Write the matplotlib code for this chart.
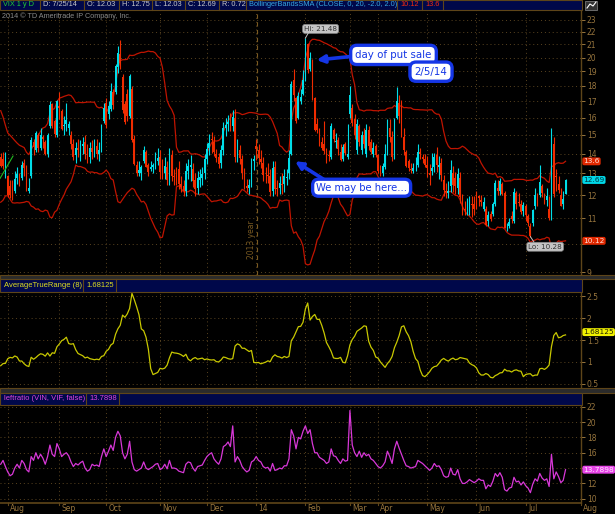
import numpy as np
import pandas as pd
import matplotlib.pyplot as plt
import matplotlib.transforms as mtransforms
from matplotlib.patches import Rectangle, FancyArrowPatch

W, H = 615, 514

# daily VIX bars; the first 19 (Jul 1-26 2013) sit left of the visible window
# and only feed the 20-day bands and the 8-day ATR
n_warm = 19
opens = [16.9, 16.3, 16.9, 15.5, 14.7, 14.6, 14.4, 13.8, 14.0, 13.9, 13.8, 14.3, 13.7, 13.6, 12.6, 12.3, 12.8, 13.6, 13.3,
         13.80, 13.70, 13.20,
         12.90, 12.40, 12.40, 12.20, 12.80, 12.90, 12.80, 13.50, 13.20, 12.20, 12.90, 14.60, 14.20, 15.00, 14.30, 14.90, 14.60, 14.00, 15.50, 16.80, 15.80, 15.00,
         16.70, 16.40, 15.50, 15.60, 15.40, 15.00, 14.50, 13.90, 14.30, 14.00, 14.40, 14.60, 14.00, 13.80, 14.30, 14.10, 14.40, 14.00, 14.20, 15.80,
         16.90, 16.20, 16.50, 17.60, 17.60, 19.30, 20.30, 18.60, 16.80, 17.50, 16.10, 17.80, 14.80, 13.40, 13.00, 13.00, 13.60, 14.10, 13.40, 13.20, 13.30, 13.30, 13.60,
         13.80, 13.30, 13.00, 13.30, 12.70, 13.90, 12.90, 12.90, 13.20, 12.50, 12.40, 12.20, 13.10, 13.30, 13.20, 12.70, 12.30, 12.70, 12.80, 13.00,
         13.70, 14.30, 14.80, 14.60, 14.00, 13.80, 13.50, 14.20, 15.40, 15.60, 15.90, 15.50, 16.00, 13.80, 14.20, 13.70, 13.00, 12.40, 12.30, 12.60, 13.60,
         14.40, 14.20, 13.70, 13.50, 12.90, 12.90, 12.90, 12.20, 13.30, 12.30, 12.30, 12.50, 12.50, 12.80, 13.00, 14.00, 18.40, 17.20, 16.00, 17.00, 17.50,
         18.40, 21.00, 19.20, 19.80, 17.20, 15.60, 15.20, 14.60, 14.50, 14.10, 13.90, 13.80, 15.30, 14.60, 14.70, 14.10, 13.70, 14.50, 13.80,
         16.20, 16.60, 15.90, 14.20, 15.50, 14.20, 15.00, 14.00, 15.30, 14.60, 14.00, 14.40,
         13.90, 13.10, 13.00, 13.30, 14.20, 15.40, 14.90, 13.80, 16.00, 16.90, 16.00, 14.90, 14.10, 13.60, 13.20, 13.10, 13.30, 13.40, 14.10, 13.80, 13.70,
         13.40, 13.00, 13.10, 13.30, 13.90, 13.30, 13.50, 12.70, 12.20, 12.10, 12.40, 13.00, 12.80, 12.30, 12.80, 11.70, 11.40, 11.50, 11.40, 11.60, 11.60,
         11.60, 11.95, 11.80, 11.40, 11.40, 10.90, 11.20, 11.20, 11.60, 12.30, 12.20, 12.50, 12.10, 10.60, 10.70, 11.10, 10.90, 12.10, 11.70, 11.60, 11.30,
         11.50, 11.10, 10.70, 10.80, 11.50, 12.00, 12.00, 12.40, 11.90, 11.80, 11.40, 11.10, 14.50, 12.90, 12.50, 12.00, 11.60, 12.03]
highs = [17.0, 17.1, 17.3, 15.8, 15.1, 14.8, 14.8, 14.3, 14.2, 14.1, 14.6, 14.4, 13.9, 13.7, 12.9, 12.8, 13.6, 13.9, 13.6,
         14.05, 14.10, 14.10,
         12.95, 12.70, 12.70, 13.10, 13.30, 13.00, 13.60, 13.70, 13.40, 12.80, 14.90, 14.80, 15.20, 15.10, 15.40, 15.00, 14.70, 15.10, 17.00, 16.90, 15.90, 17.10,
         17.60, 16.50, 16.10, 16.90, 15.80, 15.25, 14.75, 14.60, 14.80, 14.70, 14.90, 15.00, 14.50, 14.60, 14.70, 14.80, 14.80, 14.60, 15.60, 16.90,
         17.20, 17.00, 18.20, 17.80, 19.50, 20.90, 21.34, 18.80, 17.00, 17.80, 18.80, 18.00, 15.00, 13.60, 13.60, 13.40, 14.40, 14.20, 13.50, 13.60, 13.50, 14.10, 14.30,
         14.20, 13.70, 13.80, 13.60, 14.30, 14.20, 13.20, 13.30, 13.60, 12.90, 12.70, 13.50, 13.70, 13.90, 13.50, 13.00, 13.10, 13.20, 13.30, 14.00,
         14.55, 15.05, 15.15, 14.95, 14.25, 14.05, 14.45, 15.75, 15.95, 16.15, 16.25, 16.45, 16.55, 14.75, 14.45, 13.95, 13.25, 12.75, 12.75, 13.75, 13.95,
         14.80, 14.50, 14.20, 13.80, 13.30, 13.50, 13.20, 13.60, 13.60, 12.70, 12.90, 13.00, 13.20, 13.20, 14.20, 18.30, 19.20, 17.30, 17.60, 17.80, 19.10,
         21.48, 21.10, 20.40, 19.90, 17.30, 16.00, 15.40, 14.90, 15.80, 14.30, 14.20, 15.70, 15.40, 15.10, 14.90, 14.50, 14.50, 14.60, 15.60,
         18.00, 16.80, 16.20, 15.90, 15.60, 15.20, 15.40, 15.60, 15.50, 14.80, 14.60, 14.50,
         14.00, 13.40, 13.50, 14.50, 15.90, 15.90, 15.20, 16.00, 17.90, 17.40, 17.10, 15.40, 14.20, 13.70, 13.50, 13.50, 13.80, 14.50, 14.30, 14.00, 14.00,
         13.85, 13.45, 14.05, 14.05, 14.35, 13.85, 13.75, 12.95, 12.55, 12.65, 13.65, 13.35, 13.05, 13.25, 13.05, 12.05, 11.75, 11.85, 11.95, 11.95, 11.95,
         12.20, 12.00, 12.00, 11.90, 11.50, 11.30, 11.30, 11.70, 12.70, 12.70, 12.80, 12.60, 12.20, 10.80, 11.00, 11.30, 12.30, 12.20, 12.10, 11.80, 11.70,
         11.60, 11.20, 10.80, 11.40, 12.30, 12.10, 13.40, 12.50, 12.10, 12.30, 11.95, 15.40, 14.90, 13.20, 12.90, 12.30, 12.20, 12.75]
lows = [15.9, 16.0, 16.1, 14.6, 14.5, 14.2, 14.0, 13.6, 13.7, 13.6, 13.7, 13.7, 13.4, 12.5, 12.2, 12.2, 12.6, 13.0, 12.6,
        13.30, 13.20, 12.80,
        11.90, 11.85, 11.80, 12.10, 12.50, 12.40, 12.70, 12.90, 12.20, 12.10, 12.80, 13.90, 14.10, 14.10, 14.20, 14.30, 13.90, 13.80, 15.40, 15.40, 14.90, 14.90,
        15.90, 15.30, 15.00, 15.20, 15.00, 14.25, 13.65, 13.50, 13.80, 13.60, 14.00, 13.70, 13.50, 13.50, 13.70, 13.80, 13.70, 13.60, 14.10, 15.70,
        15.40, 15.90, 16.40, 16.50, 17.50, 18.90, 19.20, 16.30, 15.60, 15.80, 16.00, 14.60, 13.40, 12.90, 12.90, 12.70, 13.50, 13.30, 12.90, 13.10, 13.00, 13.20, 13.40,
        12.75, 12.75, 12.75, 12.45, 12.45, 12.65, 12.45, 12.45, 12.25, 12.15, 11.95, 11.95, 12.75, 12.65, 12.35, 11.95, 12.05, 12.35, 12.45, 12.75,
        13.45, 13.95, 14.05, 13.85, 13.55, 13.25, 13.25, 13.95, 14.95, 15.25, 15.25, 15.25, 13.55, 13.55, 13.45, 12.75, 12.25, 12.15, 12.05, 12.35, 13.15,
        13.65, 13.45, 13.25, 12.65, 12.55, 12.55, 11.95, 11.95, 12.05, 11.95, 12.05, 12.05, 12.15, 12.45, 12.75, 13.90, 17.00, 15.70, 15.90, 16.80, 17.40,
        18.30, 18.90, 19.00, 17.10, 15.20, 15.10, 14.40, 14.20, 14.00, 13.50, 13.60, 13.70, 14.60, 14.30, 13.90, 13.60, 13.60, 13.90, 13.70,
        16.00, 15.50, 14.80, 14.00, 14.40, 14.00, 14.30, 13.80, 14.20, 14.00, 13.80, 13.80,
        13.00, 12.90, 12.90, 13.20, 13.90, 14.60, 13.60, 13.70, 15.90, 15.70, 14.90, 13.90, 13.30, 13.10, 13.00, 13.00, 13.10, 13.30, 13.70, 13.50, 13.30,
        12.85, 12.45, 12.95, 13.05, 13.05, 12.75, 12.65, 11.95, 11.85, 11.85, 12.15, 12.15, 12.05, 12.05, 11.65, 11.15, 11.15, 11.15, 11.15, 11.05, 11.15,
        11.40, 11.50, 11.50, 11.30, 10.70, 10.70, 10.90, 11.10, 11.50, 12.00, 12.00, 12.00, 10.60, 10.50, 10.60, 10.80, 10.80, 11.40, 11.50, 11.20, 11.10,
        10.90, 10.70, 10.28, 10.70, 11.40, 11.50, 11.90, 11.90, 11.60, 11.50, 10.92, 10.95, 11.90, 12.20, 12.10, 11.50, 11.40, 12.03]
closes = [16.35, 16.44, 16.20, 14.89, 14.78, 14.35, 14.21, 14.01, 13.84, 13.79, 14.42, 13.78, 13.77, 12.54, 12.29, 12.66, 13.43, 13.17, 12.72,
          13.39, 13.39, 13.45,
          11.98, 11.98, 11.84, 12.72, 12.98, 12.73, 13.41, 13.28, 12.31, 12.31, 14.73, 14.37, 15.10, 14.29, 15.00, 14.76, 13.98, 14.99, 16.77, 15.52, 15.06, 17.01,
          16.61, 15.36, 15.54, 15.85, 15.63, 14.53, 13.82, 14.29, 14.16, 14.38, 14.53, 14.00, 13.80, 14.30, 14.10, 14.50, 14.00, 14.20, 15.46, 16.60,
          15.54, 16.69, 17.67, 16.74, 19.41, 20.34, 19.60, 16.48, 15.72, 16.07, 18.66, 14.71, 13.48, 13.04, 13.16, 13.33, 14.20, 13.33, 13.09, 13.31, 13.41, 13.65, 13.75,
          13.09, 13.00, 13.35, 12.67, 13.91, 12.90, 12.82, 12.81, 12.52, 12.37, 12.19, 13.10, 13.39, 13.40, 12.66, 12.26, 12.76, 12.81, 12.98, 13.70,
          14.23, 14.55, 14.70, 14.08, 13.79, 13.49, 14.21, 15.42, 15.54, 15.76, 15.50, 16.03, 13.80, 14.15, 13.79, 13.04, 12.48, 12.33, 12.46, 13.56, 13.72,
          14.23, 13.76, 13.55, 12.92, 12.87, 12.89, 12.14, 13.28, 12.28, 12.28, 12.53, 12.44, 12.87, 12.84, 13.77, 18.14, 17.42, 15.80, 17.35, 17.29, 18.41,
          21.44, 19.11, 19.95, 17.23, 15.29, 15.26, 14.51, 14.30, 14.14, 13.57, 13.87, 15.50, 14.79, 14.68, 14.23, 13.67, 14.35, 14.04, 14.00,
          17.40, 15.70, 15.00, 15.60, 14.60, 15.00, 14.50, 15.30, 14.40, 14.10, 14.30, 13.90,
          13.10, 13.09, 13.37, 13.96, 15.57, 14.89, 13.82, 15.89, 17.03, 16.11, 15.05, 14.18, 13.36, 13.25, 13.19, 13.27, 13.32, 14.06, 13.97, 13.71, 13.41,
          13.25, 12.91, 13.29, 13.80, 13.40, 13.43, 12.92, 12.23, 12.13, 12.17, 13.17, 12.44, 12.42, 12.96, 11.91, 11.36, 11.36, 11.51, 11.68, 11.57, 11.40,
          11.58, 11.87, 11.68, 11.68, 10.73, 11.15, 10.99, 11.60, 12.56, 12.18, 12.65, 12.06, 10.61, 10.62, 10.85, 10.98, 12.13, 11.59, 11.63, 11.26, 11.57,
          11.15, 10.82, 10.32, 11.33, 11.98, 11.65, 12.59, 12.08, 11.82, 11.96, 11.00, 14.54, 12.06, 12.81, 12.24, 11.52, 11.84, 12.69]

# leftratio (VIN, VIF) study, visible bars only
ratio = [14.5, 15.0, 14.2,
         13.5, 13.0, 13.2, 14.0, 14.5, 14.0, 15.0, 14.6, 13.8, 13.5, 15.5, 15.0, 16.0, 15.2, 15.8, 15.3, 14.5, 15.5, 17.0, 15.8, 15.5, 17.2,
         16.5, 15.5, 15.8, 16.0, 15.6, 14.8, 14.2, 14.6, 14.4, 14.7, 14.9, 14.0, 13.6, 13.8, 14.5, 14.3, 14.4, 14.2, 15.5, 16.5,
         15.5, 16.2, 17.0, 16.3, 18.0, 18.8, 18.2, 16.0, 15.2, 15.8, 17.5, 14.8, 13.8, 13.6, 13.8, 14.0, 14.8, 14.0, 13.8, 14.0, 14.2, 14.5, 14.6,
         13.8, 14.0, 14.5, 13.9, 15.0, 14.0, 14.0, 13.9, 13.6, 13.5, 13.4, 14.5, 14.8, 14.7, 14.0, 13.6, 14.2, 14.3, 14.4, 15.0,
         15.5, 15.8, 16.0, 15.2, 14.8, 14.5, 15.2, 16.8, 17.0, 17.4, 16.8, 19.5, 14.8, 15.5, 15.0, 14.2, 13.8, 13.5, 13.7, 14.8, 15.0,
         15.5, 15.0, 14.8, 14.2, 14.0, 14.1, 13.6, 14.6, 13.7, 13.8, 14.0, 13.9, 14.3, 14.3, 15.2, 19.0, 18.2, 16.5, 18.0, 17.8, 18.8,
         19.5, 18.5, 19.0, 17.2, 16.0, 16.0, 15.4, 15.2, 15.0, 14.6, 14.8, 16.5, 15.6, 15.5, 15.0, 14.6, 15.2, 14.9, 15.0,
         21.5, 17.0, 16.0, 15.5, 16.2, 15.4, 16.0, 15.6, 15.8, 15.2, 15.0, 14.6,
         14.2, 14.0, 14.3, 14.8, 16.2, 15.5, 14.6, 16.5, 17.5, 16.6, 15.8, 15.0, 14.3, 14.2, 14.0, 14.1, 14.2, 15.0, 14.8, 14.6, 14.3,
         14.0, 13.7, 14.0, 14.6, 14.2, 14.3, 13.8, 13.0, 12.8, 12.9, 14.0, 13.2, 13.1, 13.8, 12.6, 12.0, 12.0, 12.2, 12.5, 12.3, 12.1,
         12.3, 12.6, 12.4, 12.4, 11.3, 11.8, 11.6, 12.3, 13.3, 12.9, 13.4, 12.8, 11.2, 11.0, 11.4, 11.5, 12.8, 12.2, 12.3, 11.8, 12.2,
         11.7, 11.4, 10.8, 11.9, 12.6, 12.3, 13.3, 12.7, 12.4, 12.6, 11.6, 15.8, 12.6, 13.5, 12.9, 12.1, 12.4, 13.79]

month_labels = ['Aug', 'Sep', 'Oct', 'Nov', 'Dec', '14', 'Feb', 'Mar', 'Apr', 'May', 'Jun', 'Jul', 'Aug']
month_pos = [3, 25, 45, 68, 88, 109, 130, 149, 161, 182, 203, 224, 247.4]

O = np.array(opens); Hh = np.array(highs); L = np.array(lows); C = np.array(closes)
x = np.arange(len(C)) - n_warm

cl = pd.Series(C)
mid = cl.rolling(20).mean()
sd = cl.rolling(20).std(ddof=0)
upper = (mid + 2 * sd).values
lower = (mid - 2 * sd).values
prev = cl.shift(1).values
tr = np.nanmax(np.vstack([Hh - L, np.abs(Hh - prev), np.abs(L - prev)]), axis=0)
atr = pd.Series(tr).rolling(8).mean().values

BG = 'black'
NAVY = '#00084a'
BROWN = '#5e4519'
TXT = '#97753d'
GRID = '#5a4420'
UP = '#00dde8'
DN = '#f02c00'
BAND = '#c01400'
HF = 'Liberation Sans'

fig = plt.figure(figsize=(W / 100, H / 100), dpi=100, facecolor=BG)


def rect(x0, y0, x1, y1):
    return [x0 / W, 1 - y1 / H, (x1 - x0) / W, (y1 - y0) / H]


ax = fig.add_axes(rect(0, 10, 581, 274.5))
ax_atr = fig.add_axes(rect(0, 291.5, 581, 387.5), sharex=ax)
ax_rat = fig.add_axes(rect(0, 405, 581, 503), sharex=ax)

for a in (ax, ax_atr, ax_rat):
    a.set_facecolor(BG)
    for s in ('left', 'top', 'bottom'):
        a.spines[s].set_visible(False)
    a.spines['right'].set_color(BROWN)
    a.spines['right'].set_linewidth(1.0)
    a.yaxis.tick_right()
    a.tick_params(axis='y', which='major', colors=TXT, labelsize=5.5, length=3,
                  width=0.7, pad=1.2)
    a.tick_params(axis='y', which='minor', length=0)
    a.tick_params(axis='x', bottom=False, labelbottom=False)
    a.set_xticks(month_pos)
    a.grid(True, color=GRID, linestyle=(0, (1, 3)), linewidth=0.7)
    a.set_axisbelow(True)

ax.set_xlim(-0.3, 247.6)

# candles
col = np.where(C >= O, UP, DN)
vis = x >= 0
ax.vlines(x[vis], L[vis], Hh[vis], colors=col[vis], lw=0.8, zorder=3)
body = np.maximum(np.abs(C - O), 0.03)
ax.bar(x[vis], body[vis], bottom=np.minimum(O, C)[vis], width=0.75,
       color=col[vis], linewidth=0, zorder=3)
ok = ~np.isnan(upper)
ax.plot(x[ok], upper[ok], color=BAND, lw=0.9, zorder=2)
ax.plot(x[ok], lower[ok], color=BAND, lw=0.9, zorder=2)

ax.set_yscale('log')
ax.set_ylim(8.93, 23.87)
ax.yaxis.set_minor_locator(plt.NullLocator())
ax.set_yticks(range(9, 24))
# the 10 label sits under the lower-band tag
ax.set_yticklabels(['' if v == 10 else str(v) for v in range(9, 24)])

# small green trend line and the year divider
ax.plot([-0.3, 5.25], [12.76, 13.87], color='#22bb22', lw=0.8, zorder=4)
ax.axvline(109.2, color='#7a5a22', lw=0.8, linestyle=(0, (4, 3)), zorder=1)
ax.text(106.9, 10.15, '2013 year', rotation=90, color='#7a5a22', fontsize=5.5,
        ha='center', va='center')

# hi / lo bubbles
grey_box = dict(boxstyle='round,pad=0.2,rounding_size=0.3', fc='#c4c4c4', ec='#8a8a8a', lw=0.5)
ax.text(136.5, 22.25, 'Hi: 21.48', fontsize=5.2, color='#333333', ha='center', va='center',
        bbox=grey_box, zorder=6)
ax.plot([130, 131.2], [21.5, 21.9], color='#c4c4c4', lw=0.7, zorder=6)
ax.text(232.3, 9.9, 'Lo: 10.28', fontsize=5.2, color='#333333', ha='center', va='center',
        bbox=grey_box, zorder=6)
ax.plot([226, 227.5], [10.28, 10.08], color='#c4c4c4', lw=0.7, zorder=6)

# blue call-outs
BLUE = '#1536e6'
blue_box = dict(boxstyle='round,pad=0.45,rounding_size=0.6', fc='white', ec=BLUE, lw=2.4)
ax.text(167.6, 20.2, 'day of put sale', fontsize=7.4, color=BLUE, ha='center', va='center',
        bbox=blue_box, zorder=8)
ax.text(183.6, 18.98, '2/5/14', fontsize=7.4, color=BLUE, ha='center', va='center',
        bbox=blue_box, zorder=8)
ax.text(154.0, 12.33, 'We may be here...', fontsize=7.2, color=BLUE, ha='center', va='center',
        bbox=dict(boxstyle='round,pad=0.35,rounding_size=0.6', fc='white', ec=BLUE, lw=2.4),
        zorder=8)
for tail, head in (((150.5, 20.1), (133.6, 19.8)), ((139.5, 12.6), (124.6, 13.68))):
    ax.add_patch(FancyArrowPatch(tail, head, arrowstyle='-|>', mutation_scale=11,
                                 color=BLUE, lw=2.6, zorder=7))


# right-hand value tags
def tag(a, y, s, fc, tc):
    tt = mtransforms.blended_transform_factory(a.transAxes, a.transData)
    a.text(1.004, y, s, transform=tt, fontsize=5.3, color=tc, ha='left', va='center',
           clip_on=False, zorder=9,
           bbox=dict(boxstyle='round,pad=0.13,rounding_size=0.25', fc=fc, ec='none'))


tag(ax, 13.6, '13.6', '#e02800', '#ffe0d8')
tag(ax, 12.69, '12.69', '#00d8e8', '#003840')
tag(ax, 10.12, '10.12', '#e02800', '#ffe0d8')

# ATR panel
ax_atr.plot(x[vis], atr[vis], color='#c8c800', lw=0.9)
ax_atr.set_ylim(0.415, 2.61)
ax_atr.set_yticks([0.5, 1, 1.5, 2, 2.5])
ax_atr.set_yticklabels(['0.5', '1', '1.5', '2', '2.5'])
tag(ax_atr, 1.68125, '1.68125', '#f0f000', '#202000')

# ratio panel
ax_rat.plot(np.arange(len(ratio)), ratio, color='#d838d8', lw=0.9)
ax_rat.set_ylim(9.45, 22.22)
ax_rat.set_yticks(range(10, 23, 2))
# the 14 label sits under the current-value tag
ax_rat.set_yticklabels(['' if v == 14 else str(v) for v in range(10, 23, 2)])
tag(ax_rat, 13.7898, '13.7898', '#e845e8', '#ffe8ff')

# month labels under the bottom panel
bt = mtransforms.blended_transform_factory(ax_rat.transData, ax_rat.transAxes)
for p, s in zip(month_pos, month_labels):
    ax_rat.text(p + 1.0, -0.06, s, transform=bt, color=TXT, fontsize=5.5,
                ha='left', va='center', clip_on=False)
    ax_rat.plot([p, p], [0, -0.025], transform=bt, color=BROWN, lw=0.8, clip_on=False)
ax_rat.plot([0, 1], [0, 0], transform=ax_rat.transAxes, color=BROWN, lw=1.2, clip_on=False)

# overlay for header strips and panel separators
ov = fig.add_axes([0, 0, 1, 1])
ov.set_xlim(0, W)
ov.set_ylim(H, 0)
ov.axis('off')


def strip(y0, y1):
    ov.add_patch(Rectangle((0, y0), 582, y1 - y0, fc=NAVY, ec=BROWN, lw=0.8))


def sep(y0, y1):
    ov.add_patch(Rectangle((0, y0), W, y1 - y0, fc='#2b2b2b', ec=BROWN, lw=0.8))


strip(0, 9.5)
sep(274.5, 278.5)
strip(279, 291.5)
sep(387.5, 392.5)
strip(393, 405)

head_items = [(3, 'VIX 1 y D', '#22cc33'), (43, 'D: 7/25/14', '#c8c8c8'), (87, 'O: 12.03', '#c8c8c8'),
              (122, 'H: 12.75', '#c8c8c8'), (155, 'L: 12.03', '#c8c8c8'), (188, 'C: 12.69', '#c8c8c8'),
              (222, 'R: 0.72', '#c8c8c8'), (249, 'BollingerBandsSMA (CLOSE, 0, 20, -2.0, 2.0)', '#38a8e0'),
              (400, '10.12', '#ee2a10'), (425, '13.6', '#ee2a10')]
for xp, s, c in head_items:
    ov.text(xp, 5, s, color=c, fontsize=5.3, family=HF, ha='left', va='center')
for xp in (40, 84, 119, 152, 185, 219, 246, 397, 422, 443):
    ov.plot([xp, xp], [0, 9.5], color=BROWN, lw=0.8)
ov.add_patch(Rectangle((585, 0.5), 12, 9, fc='#333333', ec='#777777', lw=0.6))
ov.plot([587, 590, 593, 596], [8, 4, 6, 2], color='white', lw=0.8)
ov.text(2, 16, '2014 \u00a9 TD Ameritrade IP Company, Inc.', color='#8a8a8a', fontsize=5.2,
        family=HF, ha='left', va='center')

ov.text(4, 285.5, 'AverageTrueRange (8)', color='#dddd22', fontsize=5.5, family=HF,
        ha='left', va='center')
ov.text(86, 285.5, '1.68125', color='#dddd22', fontsize=5.5, family=HF, ha='left', va='center')
for xp in (83, 116):
    ov.plot([xp, xp], [279, 291.5], color=BROWN, lw=0.8)
ov.text(4, 399, 'leftratio (VIN, VIF, false)', color='#dd44dd', fontsize=5.5, family=HF,
        ha='left', va='center')
ov.text(89, 399, '13.7898', color='#dd44dd', fontsize=5.5, family=HF, ha='left', va='center')
for xp in (86, 119):
    ov.plot([xp, xp], [393, 405], color=BROWN, lw=0.8)

fig.savefig('out.png', dpi=100, facecolor=BG)
